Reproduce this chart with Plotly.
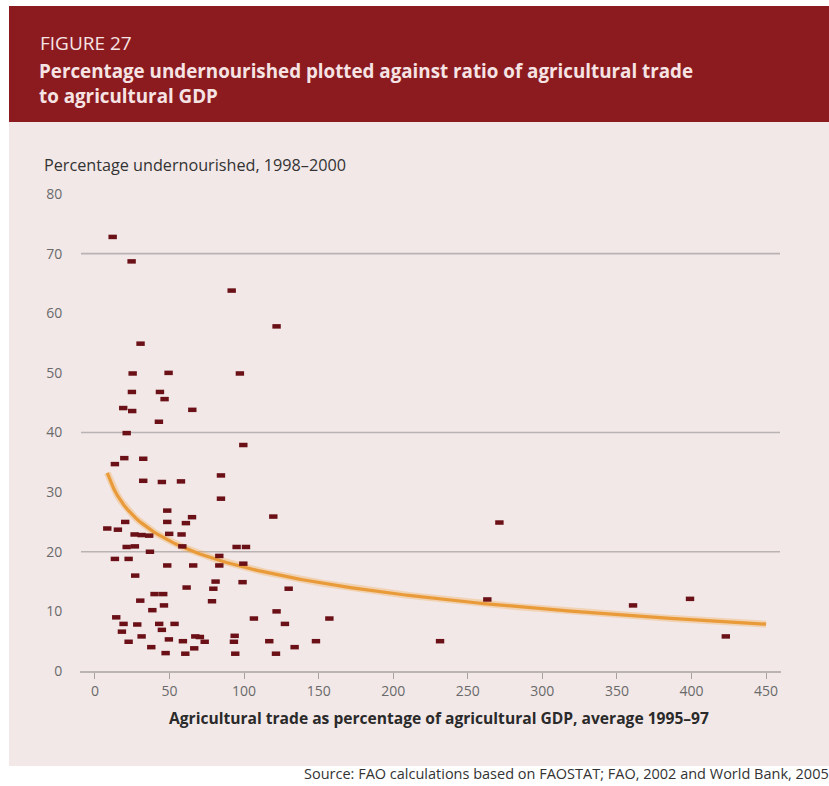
import numpy as np
import plotly.graph_objects as go

# Agricultural trade as % of agricultural GDP (average 1995-97)
trade_pct = [
    11.9, 24.6, 91.7, 121.8, 30.6, 25.3, 49.4, 97.2, 24.8, 43.6,
    46.7, 19.0, 25.0, 65.3, 42.9, 21.3, 99.5, 13.4, 19.7, 32.4,
    32.4, 44.9, 57.7, 84.5, 84.5, 48.5, 65.1, 119.6, 48.5, 61.0,
    8.3, 15.4, 20.3, 26.6, 31.3, 36.4, 49.8, 58.1, 58.6, 21.3,
    26.8, 95.0, 101.3, 36.9, 13.4, 22.6, 83.4, 83.4, 48.5, 65.9,
    99.5, 27.0, 61.5, 80.9, 79.4, 99.0, 129.9, 40.0, 45.8, 30.4,
    78.5, 46.3, 38.5, 121.8, 14.3, 106.6, 157.2, 19.2, 28.4, 43.1,
    53.4, 127.4, 18.1, 44.9, 31.3, 67.3, 70.4, 93.7, 22.6, 49.6,
    59.0, 73.6, 93.2, 116.9, 148.2, 37.8, 66.6, 133.9, 47.4, 60.6,
    94.1, 121.4, 271.2, 263.1, 231.4, 360.8, 399.0, 423.0,
]

# Percentage undernourished (1998-2000)
undernourished_pct = [
    72.8, 68.7, 63.8, 57.8, 54.9, 49.9, 50.0, 49.9, 46.8, 46.8,
    45.6, 44.1, 43.6, 43.8, 41.8, 39.9, 37.9, 34.7, 35.7, 35.6,
    31.9, 31.7, 31.8, 32.8, 28.9, 26.9, 25.8, 25.9, 25.0, 24.8,
    23.9, 23.7, 25.0, 22.9, 22.8, 22.7, 23.0, 22.9, 20.9, 20.8,
    20.9, 20.8, 20.8, 20.0, 18.8, 18.8, 19.3, 17.7, 17.7, 17.7,
    18.0, 16.0, 14.0, 15.0, 13.8, 14.9, 13.8, 12.9, 12.9, 11.8,
    11.7, 11.0, 10.2, 10.0, 9.0, 8.8, 8.8, 7.9, 7.8, 7.9,
    7.9, 7.9, 6.6, 6.9, 5.8, 5.8, 5.7, 5.9, 4.9, 5.3,
    5.0, 4.9, 4.9, 5.0, 5.0, 4.0, 3.8, 4.0, 3.0, 2.9,
    2.9, 2.9, 24.9, 12.0, 5.0, 11.0, 12.1, 5.8,
]

# Logarithmic trend: y = A - B * ln(x)
TREND_A = 46.7
TREND_B = 6.36
trend_x_range = [8.3, 450]

x_ticks = [0, 50, 100, 150, 200, 250, 300, 350, 400, 450]
y_ticks = [0, 10, 20, 30, 40, 50, 60, 70, 80]
reference_lines = [20, 40, 70]

TITLE_LABEL = "FIGURE 27"
TITLE_LINES = ["Percentage undernourished plotted against ratio of agricultural trade",
               "to agricultural GDP"]
Y_TITLE = "Percentage undernourished, 1998–2000"
X_TITLE = "Agricultural trade as percentage of agricultural GDP, average 1995–97"
SOURCE = "Source: FAO calculations based on FAOSTAT; FAO, 2002 and World Bank, 2005"

W, H = 829, 786
L, R, T, B = 80, 48, 194, 115
PW, PH = W - L - R, H - T - B

HEADER = "#8C1B20"
PANEL = "#F2E8E8"
DOT = "#6A1016"
CURVE = "#E99B3A"
FONT = "Open Sans, Noto Sans, sans-serif"


def px(xp):
    return (xp - L) / PW


def py(yp):
    return (H - B - yp) / PH


tx = np.linspace(trend_x_range[0], trend_x_range[1], 200)
ty = TREND_A - TREND_B * np.log(tx)

fig = go.Figure()

# soft halo under the trend line, then the line itself
fig.add_trace(go.Scatter(
    x=tx, y=ty, mode="lines",
    line=dict(color="rgba(240,170,80,0.35)", width=7),
    hoverinfo="skip", showlegend=False,
))
fig.add_trace(go.Scatter(
    x=tx, y=ty, mode="lines",
    line=dict(color=CURVE, width=3.2),
    hoverinfo="skip", showlegend=False,
))
fig.add_trace(go.Scatter(
    x=trade_pct, y=undernourished_pct, mode="markers",
    marker=dict(symbol="line-ew", size=6,
                line=dict(color=DOT, width=4.5)),
    showlegend=False,
))

shapes = [
    # header band
    dict(type="rect", xref="paper", yref="paper",
         x0=px(9), x1=px(829), y0=py(122), y1=py(6),
         fillcolor=HEADER, line=dict(width=0), layer="below"),
    # chart panel
    dict(type="rect", xref="paper", yref="paper",
         x0=px(9), x1=px(829), y0=py(766), y1=py(122),
         fillcolor=PANEL, line=dict(width=0), layer="below"),
]
for v in reference_lines:
    shapes.append(dict(type="line", xref="paper", yref="y",
                       x0=px(81), x1=px(780), y0=v, y1=v,
                       line=dict(color="#B9B3B3", width=1.6), layer="below"))

annotations = [
    dict(text=TITLE_LABEL, x=px(38), y=py(43), xref="paper", yref="paper",
         xanchor="left", yanchor="middle", showarrow=False,
         font=dict(family=FONT, size=19, color="#F6E4E4")),
    dict(text="<b>" + TITLE_LINES[0] + "</b>", x=px(37), y=py(71),
         xref="paper", yref="paper", xanchor="left", yanchor="middle",
         showarrow=False, font=dict(family=FONT, size=18.8, color="#F6E4E4")),
    dict(text="<b>" + TITLE_LINES[1] + "</b>", x=px(37), y=py(96),
         xref="paper", yref="paper", xanchor="left", yanchor="middle",
         showarrow=False, font=dict(family=FONT, size=18.8, color="#F6E4E4")),
    dict(text=Y_TITLE, x=px(42), y=py(165), xref="paper", yref="paper",
         xanchor="left", yanchor="middle", showarrow=False,
         font=dict(family=FONT, size=16.2, color="#333333")),
    dict(text="<b>" + X_TITLE + "</b>", x=px(167), y=py(718), xref="paper", yref="paper",
         xanchor="left", yanchor="middle", showarrow=False,
         font=dict(family=FONT, size=15.6, color="#2A2A2A")),
    dict(text=SOURCE, x=px(831), y=py(774), xref="paper", yref="paper",
         xanchor="right", yanchor="middle", showarrow=False,
         font=dict(family=FONT, size=14.5, color="#333333")),
]

fig.update_layout(
    width=W, height=H,
    margin=dict(l=L, r=R, t=T, b=B, pad=0),
    paper_bgcolor="white",
    plot_bgcolor="rgba(0,0,0,0)",
    shapes=shapes,
    annotations=annotations,
    font=dict(family=FONT),
    xaxis=dict(
        range=[-10, 460], tickvals=x_ticks,
        ticktext=[str(v) for v in x_ticks],
        showgrid=False, zeroline=False,
        showline=True, linecolor="#B9B3B3", linewidth=1.6,
        ticks="outside", ticklen=6, tickwidth=1, tickcolor="#A8A0A0",
        tickfont=dict(family=FONT, size=14, color="#6A6A6A"),
        fixedrange=True,
    ),
    yaxis=dict(
        range=[0, 80], tickvals=y_ticks,
        ticktext=[str(v) for v in y_ticks],
        showgrid=False, zeroline=False, showline=False,
        ticks="outside", ticklen=14, tickcolor="rgba(0,0,0,0)",
        tickfont=dict(family=FONT, size=14, color="#6A6A6A"),
        fixedrange=True,
    ),
)

fig.write_html("out.html")
